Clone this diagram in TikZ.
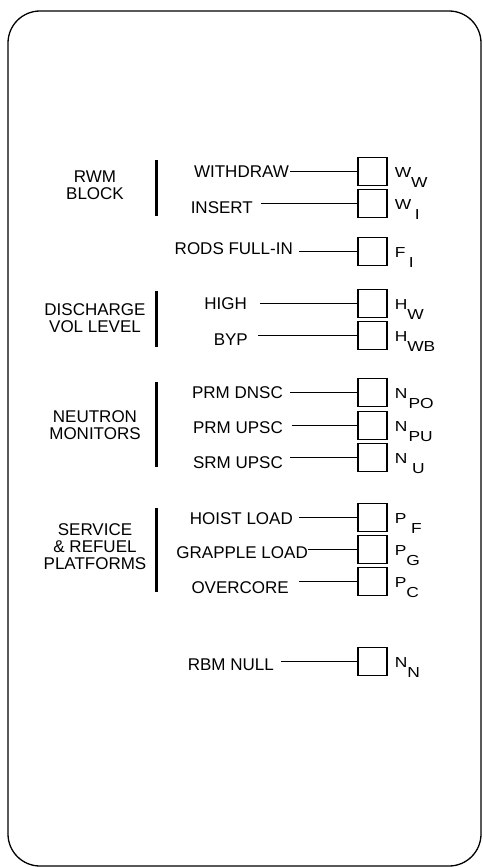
\documentclass[tikz,border=0pt]{standalone}
\usepackage{fontspec}
\setmainfont{Liberation Sans}
\usetikzlibrary{calc}

\newcommand{\sg}[3][0pt]{\scalebox{1.2}[1]{#2\kern#1\raisebox{-10.5pt}{#3}}}

\begin{document}
\begin{tikzpicture}[x=1pt, y=-1pt,
  frame/.style={line width=1.3pt, rounded corners=32pt},
  group/.style={align=center, inner sep=0pt, font=\fontsize{17}{17}\selectfont},
  bar/.style={line width=2.5pt},
  item/.style={anchor=east, inner ysep=0pt, font=\fontsize{17}{17}\selectfont},
  sigbox/.style={draw, line width=1.1pt, minimum width=29pt, minimum height=28pt, inner sep=0pt},
  siglabel/.style={anchor=base west, inner sep=0pt, font=\fontsize{14.5}{14.5}\selectfont},
  wire/.style={line width=1pt}]
\useasboundingbox (0,0) rectangle (482,867);

\draw[frame] (8,11) rectangle (481,866);

\node[group] (rwm) at (95,185) {RWM\\BLOCK};
\node[group] (dis) at (95,318.5) {DISCHARGE\\VOL LEVEL};
\node[group] (neu) at (95,425.5) {NEUTRON\\MONITORS};
\node[group] (srv) at (95,547) {SERVICE\\\& REFUEL\\PLATFORMS};

\draw[bar] (156.5,160) -- (156.5,216);
\draw[bar] (156.5,291) -- (156.5,347);
\draw[bar] (156.5,382) -- (156.5,467);
\draw[bar] (156.5,508) -- (156.5,592);

\foreach \n/\by/\ty/\lx/\gap/\txt/\lab in {
  1/171.5/172/290/1pt/WITHDRAW/{\sg{W}{W}},
  2/203.5/208/261/8pt/INSERT/{\sg[3pt]{W}{I}},
  3/251.5/249/299/6pt/RODS FULL-IN/{\sg[3pt]{F}{I}},
  4/303.5/304/260/13pt/HIGH/{\sg{H}{W}},
  5/335.5/340/258/10pt/BYP/{\sg{H}{WB}},
  6/392.5/393/290/7pt/PRM DNSC/{\sg[1pt]{N}{PO}},
  7/425.5/428/292/9pt/PRM UPSC/{\sg[1pt]{N}{PU}},
  8/457.5/463/290/7pt/SRM UPSC/{\sg[4pt]{N}{U}},
  9/517.5/519/299/6pt/HOIST LOAD/{\sg[4pt]{P}{F}},
  10/549.5/553/308/0pt/GRAPPLE LOAD/{\sg{P}{G}},
  11/581.5/588/299/10pt/OVERCORE/{\sg{P}{C}},
  12/661.5/665/281/7pt/RBM NULL/{\sg{N}{N}}} {
  \node[sigbox] (b\n) at (372.5,\by) {};
  \node[item, inner xsep=\gap] (t\n) at (\lx,\ty) {\txt};
  \node[siglabel] (s\n) at ($(b\n.east)+(7,5.5)$) {\lab};
  \draw[wire] (t\n.east |- b\n.west) -- (b\n.west);
}

\end{tikzpicture}
\end{document}
